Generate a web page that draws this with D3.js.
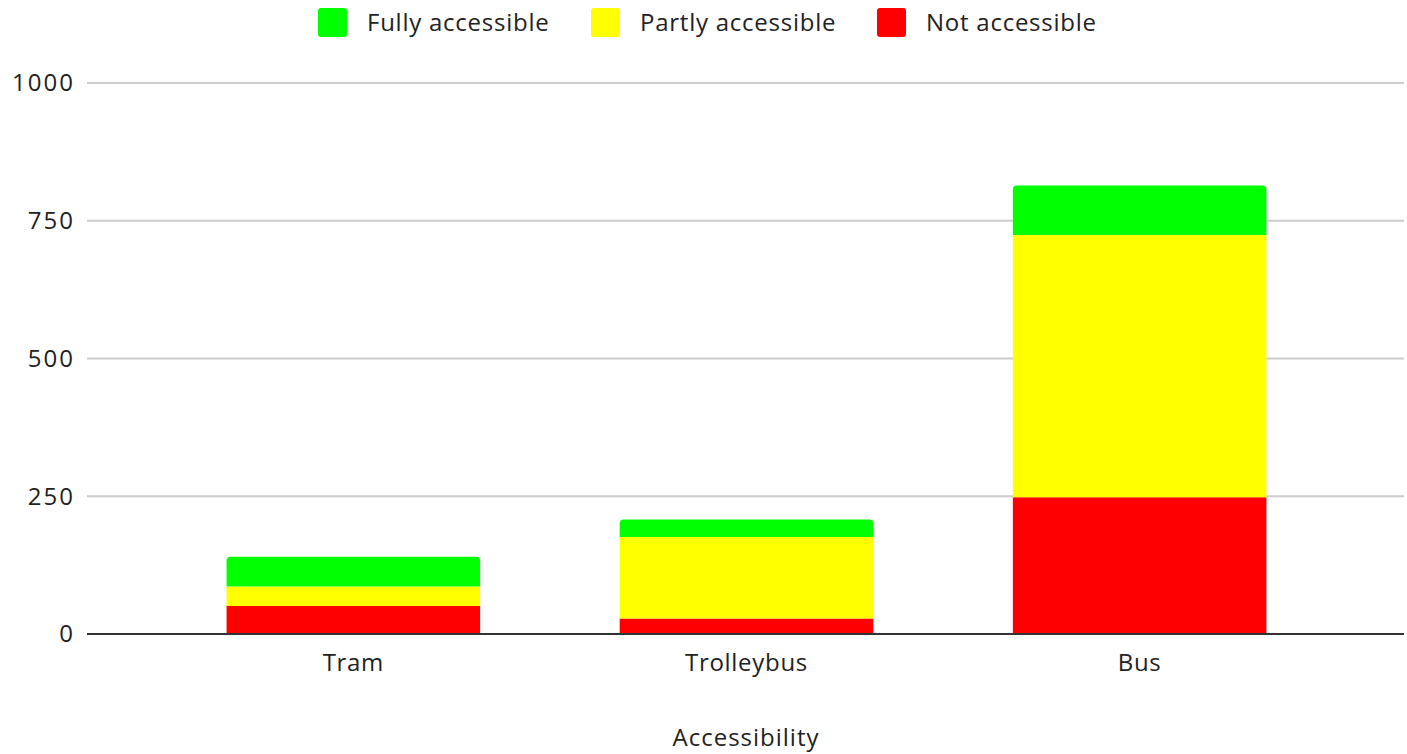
<!DOCTYPE html>
<html>
<head>
<meta charset="utf-8">
<script src="https://cdn.jsdelivr.net/npm/d3@7"></script>
<style>
html,body{margin:0;padding:0;background:#fff;}
svg{display:block;font-family:"Open Sans",sans-serif;}
</style>
</head>
<body>
<svg id="chart" width="1407" height="754"></svg>
<script>
const categories = ["Tram", "Trolleybus", "Bus"];
const seriesNames = ["Not accessible", "Partly accessible", "Fully accessible"];
const notAccessible = [51, 28, 248];
const partlyAccessible = [35, 148, 476];
const fullyAccessible = [54, 32, 90];
const yTicks = [0, 250, 500, 750, 1000];
const legendOrder = ["Fully accessible", "Partly accessible", "Not accessible"];
const xAxisTitle = "Accessibility";

const colors = {"Fully accessible": "#00ff00", "Partly accessible": "#ffff00", "Not accessible": "#ff0000"};

const rows = categories.map((c, i) => ({
  cat: c,
  "Not accessible": notAccessible[i],
  "Partly accessible": partlyAccessible[i],
  "Fully accessible": fullyAccessible[i]
}));
const stacked = d3.stack().keys(seriesNames)(rows);

const svg = d3.select("#chart");
const plotLeft = 87, plotRight = 1404, plotTop = 83, plotBottom = 634;
const fs = 24;

const x = d3.scaleBand().domain(categories).range([plotLeft, plotRight + 2]).paddingInner(0.355).paddingOuter(0.355);
const y = d3.scaleLinear().domain([0, 1000]).range([plotBottom, plotTop]);

// gridlines
svg.append("g").selectAll("line").data(yTicks.filter(t => t > 0)).join("line")
  .attr("x1", plotLeft).attr("x2", plotRight)
  .attr("y1", d => y(d)).attr("y2", d => y(d))
  .attr("stroke", "#cccccc").attr("stroke-width", 2);

// y tick labels
svg.append("g").selectAll("text").data(yTicks).join("text")
  .attr("x", 75).attr("y", d => y(d)).attr("dy", "0.35em")
  .attr("text-anchor", "end").attr("font-size", fs).attr("letter-spacing", 2).attr("fill", "#222")
  .text(d => d);

// bars
const rad = 4;
function segPath(x0, w, yTop, yBot, rounded) {
  if (!rounded) return `M${x0},${yBot}V${yTop}H${x0 + w}V${yBot}Z`;
  return `M${x0},${yBot}V${yTop + rad}Q${x0},${yTop} ${x0 + rad},${yTop}H${x0 + w - rad}Q${x0 + w},${yTop} ${x0 + w},${yTop + rad}V${yBot}Z`;
}
stacked.forEach((s, si) => {
  svg.append("g").selectAll("path").data(s).join("path")
    .attr("fill", colors[s.key])
    .attr("d", d => segPath(x(d.data.cat), x.bandwidth(), y(d[1]), y(d[0]), si === stacked.length - 1));
});

// baseline
svg.append("line").attr("x1", plotLeft).attr("x2", plotRight).attr("y1", y(0)).attr("y2", y(0))
  .attr("stroke", "#333333").attr("stroke-width", 2);

// category labels
svg.append("g").selectAll("text").data(categories).join("text")
  .attr("x", d => x(d) + x.bandwidth() / 2).attr("y", 663).attr("dy", "0.35em")
  .attr("text-anchor", "middle").attr("font-size", fs).attr("letter-spacing", 0.7).attr("fill", "#222")
  .text(d => d);

// axis title
svg.append("text").attr("x", 746).attr("y", 738).attr("dy", "0.35em")
  .attr("text-anchor", "middle").attr("font-size", fs).attr("letter-spacing", 1).attr("fill", "#222")
  .text(xAxisTitle);

// legend
const legendX = [318, 591, 877];
const lg = svg.append("g").selectAll("g").data(legendOrder).join("g")
  .attr("transform", (d, i) => `translate(${legendX[i]},8)`);
lg.append("rect").attr("width", 29).attr("height", 29).attr("rx", 3)
  .attr("fill", d => colors[d]);
lg.append("text").attr("x", 49).attr("y", 14.5).attr("dy", "0.35em")
  .attr("font-size", fs).attr("letter-spacing", 0.75).attr("fill", "#222").text(d => d);
</script>
</body>
</html>
